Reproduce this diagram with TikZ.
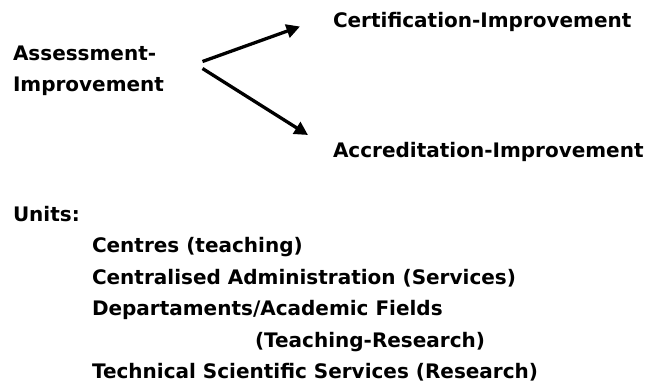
\documentclass[tikz,border=0pt]{standalone}
\usepackage{fontspec}
\setmainfont{DejaVu Sans}
\usetikzlibrary{arrows.meta}
\begin{document}
\begin{tikzpicture}[x=1bp, y=-1bp,
  label text/.style={anchor=base west, inner sep=0pt, outer sep=0pt,
    font=\fontsize{20bp}{24bp}\selectfont\bfseries},
  flow arrow/.style={line width=3.3bp,
    -{Triangle[length=13.5bp, width=13.5bp]}}]
  \useasboundingbox (0,0) rectangle (645,387);

  % improvement flow
  \node[label text] (assess)  at (13,60)  {Assessment-};
  \node[label text] (improve) at (13,91)  {Improvement};
  \node[label text] (cert)    at (333,27) {Certification-Improvement};
  \node[label text] (accr)    at (333,157) {Accreditation-Improvement};

  \coordinate (fromup)   at (202.5,61.5);
  \coordinate (fromdown) at (202.5,68.5);
  \coordinate (tocert)   at (300,26.5);
  \coordinate (toaccr)   at (308,135);

  \draw[flow arrow] (fromup) -- (tocert);
  \draw[flow arrow] (fromdown) -- (toaccr);

  % list of units
  \node[label text] (units)    at (13,221)   {Units:};
  \node[label text] (centres)  at (92,252.5) {Centres (teaching)};
  \node[label text] (admin)    at (92,284)   {Centralised Administration (Services)};
  \node[label text] (depts)    at (92,315.5) {Departaments/Academic Fields};
  \node[label text] (teachres) at (255,347)  {(Teaching-Research)};
  \node[label text] (techsci)  at (92,378)   {Technical Scientific Services (Research)};
\end{tikzpicture}
\end{document}
